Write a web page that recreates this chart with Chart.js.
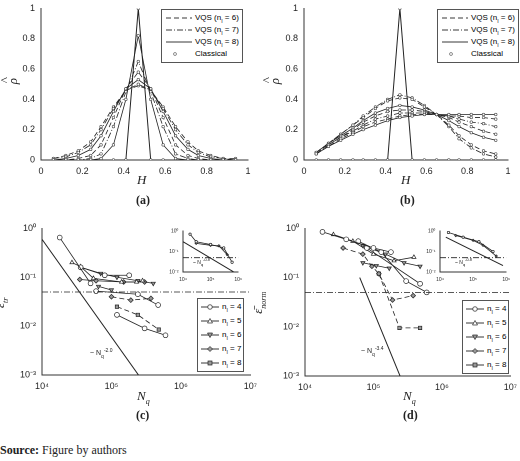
<!DOCTYPE html>
<html><head><meta charset="utf-8">
<script src="https://cdn.jsdelivr.net/npm/chart.js@4"></script>
<style>
body{margin:0;background:#fff;font-family:"Liberation Sans",Arial,sans-serif;}
#wrap{position:relative;width:520px;height:461px;overflow:hidden;}
canvas{position:absolute;}
.t{position:absolute;color:#222;white-space:nowrap;}
.ser{font-family:"Liberation Serif",serif;}
.lg{position:absolute;border:1px solid #555;background:#fff;font-size:8px;padding:2px 3px;}
.lg div{height:12px;line-height:12px;}
.lg svg{vertical-align:middle;margin-right:2px;}
</style></head><body><div id="wrap">
<canvas id="ca"></canvas><canvas id="cb"></canvas><canvas id="cc"></canvas><canvas id="cd"></canvas>
<canvas id="ic"></canvas><canvas id="id"></canvas>
</div>
<script>
// H grid (classical sample points)
const H = [0.06,0.12,0.18,0.24,0.29,0.35,0.41,0.47,0.53,0.59,0.65,0.71,0.76,0.82,0.88,0.94];
const classical = [0,0,0,0,0,0,0,1,0,0,0,0,0,0,0,0];
// panel (a) VQS curves
const a1 = [0,0,0,0,0.01,0.1,0.4,0.82,0.4,0.1,0.01,0,0,0,0,0];
const a2 = [0,0,0,0.01,0.04,0.22,0.45,0.65,0.45,0.22,0.04,0.01,0,0,0,0];
const a3 = [0,0,0.01,0.03,0.1,0.28,0.47,0.58,0.47,0.28,0.1,0.03,0.01,0,0,0];
const a4 = [0,0.01,0.03,0.07,0.16,0.32,0.47,0.53,0.47,0.32,0.16,0.07,0.03,0.01,0,0];
const a5 = [0.01,0.02,0.05,0.1,0.2,0.34,0.46,0.5,0.46,0.34,0.2,0.1,0.05,0.02,0.01,0];
const a6 = [0.01,0.03,0.06,0.12,0.22,0.35,0.46,0.49,0.46,0.35,0.22,0.12,0.06,0.03,0.01,0.01];
// panel (b) VQS curves
const b1 = [0.04,0.09,0.13,0.17,0.2,0.23,0.26,0.28,0.29,0.3,0.3,0.3,0.3,0.3,0.3,0.3];
const b2 = [0.04,0.09,0.14,0.18,0.22,0.25,0.27,0.29,0.3,0.3,0.3,0.29,0.29,0.28,0.28,0.27];
const b3 = [0.04,0.1,0.15,0.19,0.23,0.27,0.29,0.31,0.31,0.31,0.3,0.29,0.27,0.25,0.24,0.22];
const b4 = [0.05,0.1,0.15,0.2,0.25,0.29,0.32,0.33,0.33,0.32,0.3,0.28,0.25,0.22,0.19,0.17];
const b5 = [0.05,0.11,0.16,0.21,0.26,0.31,0.34,0.36,0.35,0.33,0.3,0.26,0.22,0.18,0.15,0.13];
const b6 = [0.05,0.11,0.17,0.23,0.28,0.34,0.39,0.41,0.4,0.35,0.3,0.23,0.16,0.1,0.06,0.04];
const b7 = [0.05,0.11,0.17,0.23,0.29,0.35,0.4,0.43,0.41,0.36,0.3,0.22,0.14,0.08,0.04,0.02];
// panel (c) error vs Nq  [Nq, err]
const c4a = [[1.8e4,0.65],[5e4,0.075]];
const c4b = [[6e4,0.052],[2.4e5,0.045],[4.7e5,0.027]];
const c4c = [[1.2e5,0.017],[3e5,0.009],[6e5,0.0065]];
const c4d = [[3.6e4,0.16],[8e4,0.11],[1.8e5,0.11]];
const c5 = [[2.7e4,0.2],[3.6e4,0.165],[5.5e4,0.095],[1.4e5,0.08],[2.3e5,0.08],[2.8e5,0.085]];
const c6a = [[3.6e4,0.16],[7e4,0.12],[1.2e5,0.1],[2.4e5,0.085],[4e5,0.075]];
const c6b = [[6.5e4,0.065],[1e5,0.055]];
const c7a = [[3.5e4,0.09],[6e4,0.085],[1.5e5,0.08],[3e5,0.08]];
const c7b = [[1e5,0.04],[1.9e5,0.034],[3.7e5,0.037]];
const c8 = [[1.2e5,0.025],[2.4e5,0.017],[4.8e5,0.0085]];
const cRef = [[1e4,0.6],[2.5e5,0.00096]];
// panel (d)
const d4a = [[1.8e4,0.85],[4e4,0.6],[1e5,0.4],[1.8e5,0.33]];
const d4b = [[6e4,0.55],[1.3e5,0.33],[3e5,0.085],[6e5,0.05]];
const d4c = [[8e4,0.4],[4.8e5,0.075]];
const d5 = [[2.6e4,0.75],[5e4,0.55],[1e5,0.3],[2e5,0.22],[3.9e5,0.26]];
const d6a = [[7e4,0.45],[1.5e5,0.3],[2.8e5,0.2],[4.8e5,0.17]];
const d6b = [[7e4,0.2],[1.1e5,0.175],[1.7e5,0.155]];
const d7 = [[3.6e4,0.4],[7e4,0.3],[9.5e4,0.17],[1.2e5,0.12],[1.9e5,0.035],[3.8e5,0.043]];
const d8 = [[1.2e5,0.12],[2.4e5,0.0095],[4.8e5,0.0095]];
const dRef = [[6.3e4,0.1],[2.5e5,0.00093]];
const tol = [[1e4,0.05],[1e7,0.05]];
// insets
const ic1 = [[1.8e4,0.7],[3e4,0.3],[1e5,0.22],[3e5,0.15],[6e5,0.03]];
const ic2 = [[3e4,0.25],[1e5,0.2],[2e5,0.19],[4e5,0.07]];
const icRef = [[1e4,0.3],[8e5,0.0089]];
const id1 = [[1.8e4,0.85],[5e4,0.5],[1.5e5,0.3],[4e5,0.1]];
const id2 = [[3e4,0.6],[1e5,0.35],[2e5,0.2],[5e5,0.06]];
const idRef = [[1.5e4,0.5],[8e5,0.0205]];
const itol = [[1e4,0.05],[1e6,0.05]];

const DASH=[5,3], DOT=[6,2,1,2];
const pos=(id,l,t,w,h)=>{const c=document.getElementById(id);c.style.left=l+'px';c.style.top=t+'px';c.width=w;c.height=h;return c;};
const sup={'-':'⁻','0':'⁰','1':'¹','2':'²','3':'³','4':'⁴','5':'⁵','6':'⁶','7':'⁷'};
const pow=v=>{const e=Math.log10(v);if(Math.abs(e-Math.round(e))>1e-6)return '';return '10'+String(Math.round(e)).split('').map(c=>sup[c]).join('');};
const tk={color:'#222',font:{size:9,family:'Liberation Sans'}};
const ax=(o)=>Object.assign({grid:{display:false,drawTicks:true,tickLength:3,color:'#333'},border:{color:'#333'},ticks:tk},o);

function line(data,dash,w){return {data:H.map((h,i)=>({x:h,y:data[i]})),borderColor:'#222',borderWidth:w||0.8,borderDash:dash||[],pointRadius:1.3,pointBackgroundColor:'#fff',pointBorderColor:'#444',pointBorderWidth:0.6,showLine:true};}
function hPanel(id,left,curves){
  const ds=curves.map(c=>line(c[0],c[1]));
  ds.push(line(classical,[],1));
  new Chart(pos(id,left,0,260,185),{type:'scatter',data:{datasets:ds},options:{animation:false,responsive:false,devicePixelRatio:2,
    layout:{padding:{top:3,right:12,left:0}},plugins:{legend:{display:false},tooltip:{enabled:false}},
    scales:{x:ax({min:0,max:1,afterFit:s=>{s.height=25},ticks:Object.assign({stepSize:0.2,maxRotation:0,callback:v=>+v.toFixed(1)},tk)}),
            y:ax({min:0,max:1,afterFit:s=>{s.width=left?44:41},ticks:Object.assign({stepSize:0.2,callback:v=>+v.toFixed(1)},tk)})}}});
}
hPanel('ca',0,[[a1,[]],[a2,DOT],[a3,DASH],[a4,[]],[a5,DOT],[a6,DASH]]);
hPanel('cb',260,[[b1,[]],[b2,DASH],[b3,DOT],[b4,DASH],[b5,[]],[b6,DASH],[b7,DOT]]);

const M={4:['circle',0,'#fff'],5:['triangle',0,'#fff'],6:['triangle',180,'#999'],7:['rectRot',0,'#999'],8:['rect',0,'#999']};
function ser(pts,n,dash,r){const m=M[n];return {data:pts.map(p=>({x:p[0],y:p[1]})),showLine:true,borderColor:'#222',borderWidth:0.8,borderDash:dash||[],
  pointStyle:m[0],rotation:m[1],pointBackgroundColor:m[2],pointBorderColor:'#222',pointBorderWidth:0.7,pointRadius:r||2.4};}
function ref(pts,dash){return {data:pts.map(p=>({x:p[0],y:p[1]})),showLine:true,borderColor:'#222',borderWidth:dash?0.8:1,borderDash:dash||[],pointRadius:0};}
function nPanel(id,left,top,w,h,ds,xr,yr,padL,small){
  const t=small?{color:'#222',font:{size:5}}:tk;
  new Chart(pos(id,left,top,w,h),{type:'scatter',data:{datasets:ds},options:{animation:false,responsive:false,devicePixelRatio:2,
    layout:{padding:{top:small?2:5,right:small?4:7,left:0}},plugins:{legend:{display:false},tooltip:{enabled:false}},
    scales:{x:ax({type:'logarithmic',min:xr[0],max:xr[1],afterFit:s=>{s.height=small?9:22},ticks:Object.assign({autoSkip:false,maxRotation:0,callback:pow},t),grid:{display:false,tickLength:small?1.5:3}}),
            y:ax({type:'logarithmic',min:yr[0],max:yr[1],afterFit:s=>{s.width=padL},ticks:Object.assign({autoSkip:false,callback:pow},t),grid:{display:false,tickLength:small?1.5:3}})}}});
}
nPanel('cc',0,220,260,177,[ref(cRef),ref(tol,DOT),ser(c4a,4),ser(c4b,4),ser(c4c,4),ser(c4d,4),ser(c5,5),ser(c6a,6),ser(c6b,6),ser(c7a,7),ser(c7b,7,DASH),ser(c8,8,DASH)],[1e4,1e7],[1e-3,1],42);
nPanel('cd',260,220,260,178,[ref(dRef),ref(tol,DOT),ser(d4a,4),ser(d4b,4),ser(d4c,4),ser(d5,5),ser(d6a,6),ser(d6b,6),ser(d7,7,DASH),ser(d8,8,DASH)],[1e4,1e7],[1e-3,1],45);
nPanel('ic',165,225,80,56,[ref(icRef),ref(itol,DOT),ser(ic1,4,[],1.2),ser(ic2,7,[],1.2)],[1e4,1e6],[1e-2,1],18,true);
nPanel('id',423,225,90,56,[ref(idRef),ref(itol,DOT),ser(id1,4,[],1.2),ser(id2,7,[],1.2)],[1e4,1e6],[1e-2,1],17,true);
</script>
<script>
const W=document.getElementById('wrap');
function txt(html,x,y,cls,style){const d=document.createElement('div');d.className='t '+(cls||'');d.style.left=x+'px';d.style.top=y+'px';if(style)d.style.cssText+=style;d.innerHTML=html;W.appendChild(d);return d;}
const sw=(dash,mk,w)=>`<svg width="${w||28}" height="8"><line x1="1" y1="4" x2="${(w||28)-1}" y2="4" stroke="#222" stroke-width="0.9" stroke-dasharray="${dash}"/>${mk||''}</svg>`;
function lgH(x){const d=document.createElement('div');d.className='lg';d.style.left=x+'px';d.style.top='9px';
 d.innerHTML=`<div>${sw('5,3')}VQS (n<sub style="font-size:5px">I</sub> = 6)</div><div>${sw('6,2,1,2')}VQS (n<sub style="font-size:5px">I</sub> = 7)</div><div>${sw('')}VQS (n<sub style="font-size:5px">I</sub> = 8)</div><div><svg width="28" height="8"><circle cx="10" cy="4" r="1.5" fill="#fff" stroke="#444" stroke-width="0.6"/></svg>Classical</div>`;W.appendChild(d);}
lgH(161);lgH(437);
const mk={4:'<circle cx="10" cy="4" r="2.3" fill="#fff" stroke="#222" stroke-width="0.7"/>',5:'<polygon points="10,1.5 12.5,6 7.5,6" fill="#fff" stroke="#222" stroke-width="0.7"/>',6:'<polygon points="10,6.5 12.5,2 7.5,2" fill="#999" stroke="#222" stroke-width="0.7"/>',7:'<polygon points="10,1.5 12.5,4 10,6.5 7.5,4" fill="#999" stroke="#222" stroke-width="0.7"/>',8:'<rect x="8" y="2" width="4" height="4" fill="#999" stroke="#222" stroke-width="0.7"/>'};
function lgN(x,y){const d=document.createElement('div');d.className='lg';d.style.left=x+'px';d.style.top=y+'px';d.style.padding='1px 2px';
 d.innerHTML=[4,5,6,7,8].map(n=>`<div style="height:14px;line-height:14px">${sw('',mk[n],20)}n<sub style="font-size:5px">I</sub> = ${n}</div>`).join('');W.appendChild(d);}
lgN(197,298);lgN(462,300);
// axis titles
const rho='<i style="position:relative">ρ<span style="position:absolute;left:1px;top:-8px;font-style:normal">^</span></i>';
txt('<i>H</i>',137,172,'ser','font-size:13px');txt('<i>H</i>',401,172,'ser','font-size:13px');
txt(rho,10,73,'ser','font-size:13px;transform:rotate(-90deg)');txt(rho,272,73,'ser','font-size:13px;transform:rotate(-90deg)');
txt('<i>N<sub style="font-size:8px">q</sub></i>',137,388,'ser','font-size:13px');txt('<i>N<sub style="font-size:8px">q</sub></i>',403,388,'ser','font-size:13px');
txt('<i>ε̄<sub style="font-size:8px">tr</sub></i>',-4,294,'ser','font-size:13px;transform:rotate(-90deg)');
txt('<i>ε̄<sub style="font-size:8px">norm</sub></i>',248,294,'ser','font-size:13px;transform:rotate(-90deg)');
// panel letters
txt('<b>(a)</b>',136,193,'ser','font-size:12px');txt('<b>(b)</b>',400,193,'ser','font-size:12px');
txt('<b>(c)</b>',136,408,'ser','font-size:12px');txt('<b>(d)</b>',403,408,'ser','font-size:12px');
txt('<b>Source:</b> Figure by authors',0,443,'ser','font-size:12px');
// slope notes
txt('~ N<sub style="font-size:5px">q</sub><sup style="font-size:5px">-2.0</sup>',90,347,'','font-size:7px');
txt('~ N<sub style="font-size:5px">q</sub><sup style="font-size:5px">-3.4</sup>',361,345,'','font-size:7px');
txt('~ N<sub style="font-size:4px">q</sub><sup style="font-size:4px">-0.8</sup>',193,257,'','font-size:5px');
txt('~ N<sub style="font-size:4px">q</sub><sup style="font-size:4px">-0.8</sup>',455,257,'','font-size:5px');
</script></body></html>
